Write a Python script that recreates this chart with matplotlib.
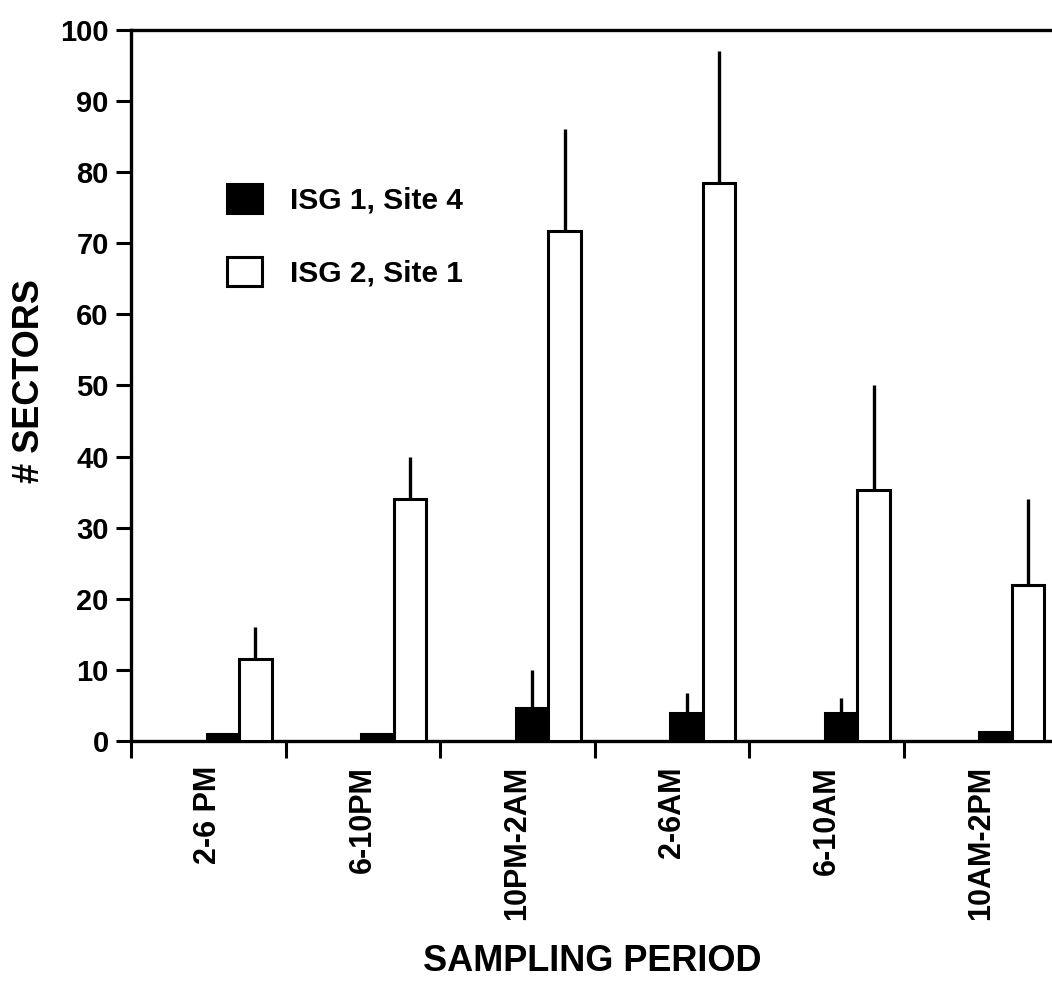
import numpy as np
import matplotlib
matplotlib.use("Agg")
import matplotlib.pyplot as plt

# === Data ===
periods = ["2-6 PM", "6-10PM", "10PM-2AM", "2-6AM", "6-10AM", "10AM-2PM"]
isg1_site4 = [1.0, 1.0, 4.7, 4.0, 4.0, 1.3]
isg1_err = [0.0, 0.0, 5.3, 2.8, 2.1, 0.0]
isg2_site1 = [11.5, 34.0, 71.7, 78.5, 35.3, 22.0]
isg2_err = [4.6, 6.0, 14.3, 18.5, 14.7, 12.0]

plt.rcParams["font.family"] = ["Liberation Sans", "DejaVu Sans"]
plt.rcParams["font.weight"] = "bold"

fig = plt.figure(figsize=(10.52, 9.94), dpi=100)
ax = fig.add_axes([0.1245, 0.2545, 0.8815, 0.7155])

x = np.arange(len(periods))
w = 0.21
lw = 2.2

ax.bar(x + 0.095, isg1_site4, w, color="black", edgecolor="black",
       linewidth=lw, label="ISG 1, Site 4", zorder=3)
ax.bar(x + 0.305, isg2_site1, w, color="white", edgecolor="black",
       linewidth=lw, label="ISG 2, Site 1", zorder=3)

# upward-only error bars, no caps
ax.errorbar(x + 0.095, isg1_site4, yerr=[np.zeros(6), isg1_err], fmt="none",
            ecolor="black", elinewidth=2.4, capsize=0, zorder=4)
ax.errorbar(x + 0.305, isg2_site1, yerr=[np.zeros(6), isg2_err], fmt="none",
            ecolor="black", elinewidth=2.4, capsize=0, zorder=4)

ax.set_xlim(-0.5, 5.5)
ax.set_ylim(0, 100)

for side in ["left", "top", "bottom"]:
    ax.spines[side].set_linewidth(2.4)
ax.spines["right"].set_visible(False)

ax.set_yticks(np.arange(0, 101, 10))
ax.tick_params(axis="y", direction="out", length=11, width=2.2, pad=5,
               labelsize=21)

# boundary ticks as major, labels on minor ticks at category centers
ax.set_xticks(x - 0.5)
ax.set_xticklabels([])
ax.tick_params(axis="x", which="major", direction="out", length=12, width=2.2)
ax.set_xticks(x, minor=True)
ax.set_xticklabels(periods, minor=True, rotation=90, fontsize=22)
ax.tick_params(axis="x", which="minor", length=0, pad=18)

ax.set_ylabel("# SECTORS", fontsize=26, fontweight="bold")
ax.yaxis.set_label_coords(-0.0906, 0.506)
ax.set_xlabel("SAMPLING PERIOD", fontsize=26, fontweight="bold")
ax.xaxis.set_label_coords(0.497, -0.286)

leg = ax.legend(loc="upper left", bbox_to_anchor=(0.091, 0.80), frameon=False,
                fontsize=21.5, handlelength=1.15, handleheight=1.1,
                labelspacing=1.43, handletextpad=0.95, borderaxespad=0)

plt.savefig("out.png", dpi=100)
